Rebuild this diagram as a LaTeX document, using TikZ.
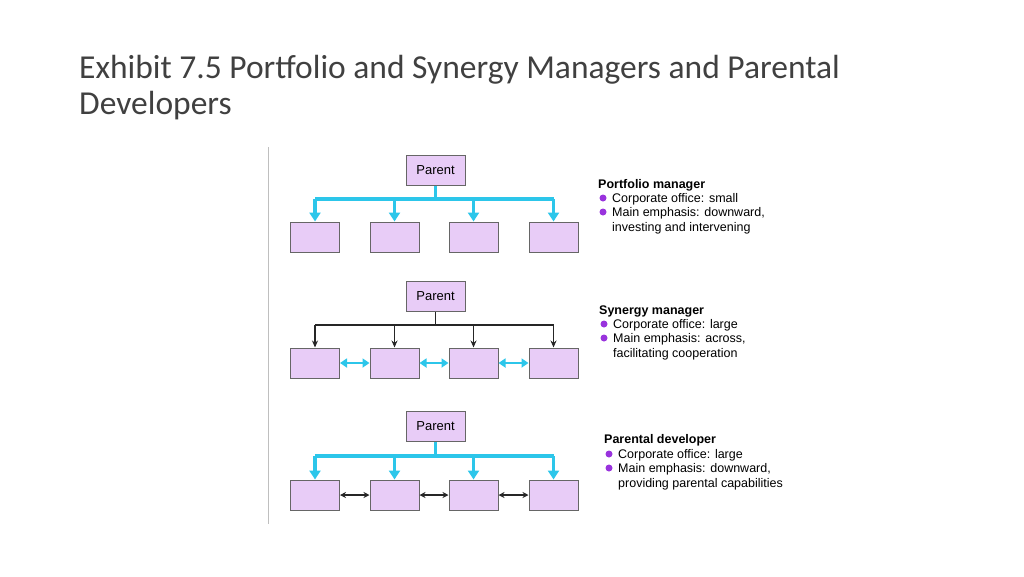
\documentclass[tikz,border=0pt]{standalone}
\usepackage{fontspec}
\setmainfont{Liberation Sans}
\newfontfamily\titlefont{Carlito}
\usetikzlibrary{arrows.meta}
\definecolor{boxfill}{HTML}{E8CCF7}
\definecolor{boxline}{HTML}{666666}
\definecolor{cyanl}{HTML}{2CC6EA}
\definecolor{bul}{HTML}{9933DD}
\begin{document}
\begin{tikzpicture}[x=1pt,y=-1pt,
  bx/.style={draw=boxline,fill=boxfill,line width=1pt,minimum width=49pt,minimum height=30pt,inner sep=0pt,font=\fontsize{13}{15}\selectfont},
  pbx/.style={bx,minimum width=59pt},
  cy/.style={draw=cyanl,line width=3.5pt},
  cyarr/.style={cy,-{Triangle[width=11pt,length=9pt]}},
  cyside/.style={draw=cyanl,line width=2.5pt,{Triangle[width=9pt,length=7pt]}-{Triangle[width=9pt,length=7pt]}},
  bk/.style={draw=black!85,line width=1.2pt},
  bkarr/.style={bk,-{Stealth[length=7pt,width=6pt]}},
  bkside/.style={bk,{Stealth[length=6pt,width=6pt]}-{Stealth[length=6pt,width=6pt]}},
  hd/.style={anchor=base west,inner sep=0pt,font=\bfseries\fontsize{12.5}{14}\selectfont},
  it/.style={anchor=base west,inner sep=0pt,font=\fontsize{12.5}{14}\selectfont},
  bdot/.style={circle,fill=bul,inner sep=0pt,minimum size=7pt}]
\useasboundingbox (0,0) rectangle (1024,576);
\node[anchor=base west,inner sep=0pt,text=black!75,font=\titlefont\fontsize{33.5}{38}\selectfont] (t1) at (79,78) {Exhibit 7.5 Portfolio and Synergy Managers and Parental};
\node[anchor=base west,inner sep=0pt,text=black!75,font=\titlefont\fontsize{33.5}{38}\selectfont] (t2) at (79,114) {Developers};
\draw[black!25,line width=1pt] (268,147) coordinate (va) -- (268,524) coordinate (vb);
% section 1
\node[pbx] (p1) at (435.5,170) {Parent};
\foreach \i/\x in {1/315,2/394.5,3/473.5,4/553.5} \node[bx] (a\i) at (\x,237) {};
\draw[cy] (p1.south) -- (435.5,199) coordinate (b1);
\draw[cy] (a1.north |- b1) -- (a4.north |- b1);
\foreach \i in {1,...,4} \draw[cyarr] (a\i.north |- b1) -- (a\i.north);
\node[hd] (h1) at (598,188) {Portfolio manager};
\node[bdot] (d11) at (603,198) {}; \node[it] (l11) at (612,202) {Corporate office: small};
\node[bdot] (d12) at (603,212) {}; \node[it] (l12) at (612,216) {Main emphasis: downward,};
\node[it] (l13) at (612,231) {investing and intervening};
% section 2
\node[pbx] (p2) at (435.5,296.5) {Parent};
\foreach \i/\x in {1/315,2/394.5,3/473.5,4/553.5} \node[bx] (c\i) at (\x,363) {};
\draw[bk] (p2.south) -- (435.5,325) coordinate (b2);
\draw[bk] (c1.north |- b2) -- (c4.north |- b2);
\foreach \i in {1,...,4} \draw[bkarr] (c\i.north |- b2) -- (c\i.north);
\draw[cyside] (c1.east) -- (c2.west);
\draw[cyside] (c2.east) -- (c3.west);
\draw[cyside] (c3.east) -- (c4.west);
\node[hd] (h2) at (599,314) {Synergy manager};
\node[bdot] (d21) at (604,324) {}; \node[it] (l21) at (613,328) {Corporate office: large};
\node[bdot] (d22) at (604,338) {}; \node[it] (l22) at (613,342) {Main emphasis: across,};
\node[it] (l23) at (613,357) {facilitating cooperation};
% section 3
\node[pbx] (p3) at (435.5,426.5) {Parent};
\foreach \i/\x in {1/315,2/394.5,3/473.5,4/553.5} \node[bx] (e\i) at (\x,495) {};
\draw[cy] (p3.south) -- (435.5,456) coordinate (b3);
\draw[cy] (e1.north |- b3) -- (e4.north |- b3);
\foreach \i in {1,...,4} \draw[cyarr] (e\i.north |- b3) -- (e\i.north);
\draw[bkside] (e1.east) -- (e2.west);
\draw[bkside] (e2.east) -- (e3.west);
\draw[bkside] (e3.east) -- (e4.west);
\node[hd] (h3) at (604,443) {Parental developer};
\node[bdot] (d31) at (609,454) {}; \node[it] (l31) at (618,458) {Corporate office: large};
\node[bdot] (d32) at (609,468) {}; \node[it] (l32) at (618,472) {Main emphasis: downward,};
\node[it] (l33) at (618,487) {providing parental capabilities};
\end{tikzpicture}
\end{document}
